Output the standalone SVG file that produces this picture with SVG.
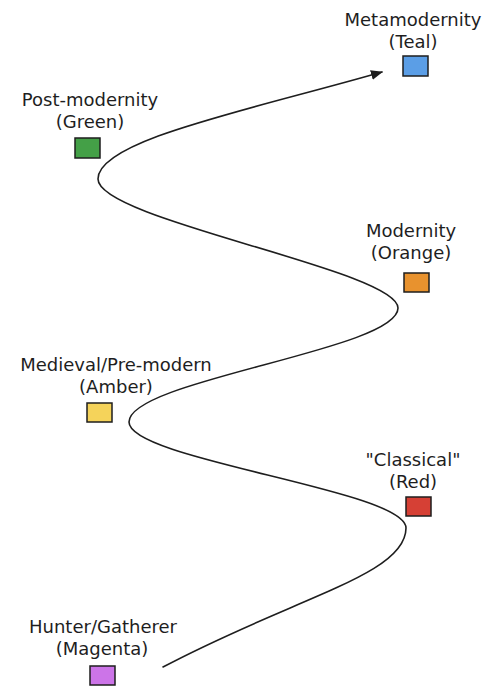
<svg xmlns="http://www.w3.org/2000/svg" width="488" height="686" viewBox="0 0 488 686">
<style>
.lbl{font-family:"DejaVu Sans","Liberation Sans",sans-serif;font-size:18px;fill:#1e1e1e;text-anchor:middle}
.sq{stroke:#1e1e1e;stroke-width:1.5}
.curve{fill:none;stroke:#1e1e1e;stroke-width:1.6;stroke-linecap:round}
</style>
<defs>
<marker id="ah" viewBox="0 0 12 10" refX="11" refY="5" markerWidth="12" markerHeight="10" markerUnits="userSpaceOnUse" orient="auto">
<path d="M0,0 L12,5 L0,10 Z" fill="#1e1e1e"/>
</marker>
</defs>
<rect width="488" height="686" fill="#ffffff"/>
<g id="connectors">
<path class="curve" marker-end="url(#ah)" d="M163,667 C295,597 406,575 406,528 C406,490 129,460 129,422 C129,380 398,350 398,308 C398,270 98,220 98,179 C98,140 250,110 382,72"/>
</g>
<g id="metamodernity">
<text class="lbl" x="413" y="26">Metamodernity</text>
<text class="lbl" x="413" y="48">(Teal)</text>
<rect class="sq" x="403" y="56" width="25" height="20" fill="#5b9ee6"/>
</g>
<g id="post-modernity">
<text class="lbl" x="90" y="106">Post-modernity</text>
<text class="lbl" x="90" y="128">(Green)</text>
<rect class="sq" x="75" y="138" width="25" height="20" fill="#44a047"/>
</g>
<g id="modernity">
<text class="lbl" x="411" y="237">Modernity</text>
<text class="lbl" x="411" y="259">(Orange)</text>
<rect class="sq" x="404" y="273" width="25" height="19" fill="#e8922e"/>
</g>
<g id="medieval">
<text class="lbl" x="116" y="371">Medieval/Pre-modern</text>
<text class="lbl" x="116" y="393">(Amber)</text>
<rect class="sq" x="87" y="403" width="25" height="19" fill="#f5d35a"/>
</g>
<g id="classical">
<text class="lbl" x="413" y="466">"Classical"</text>
<text class="lbl" x="413" y="488">(Red)</text>
<rect class="sq" x="406" y="497" width="25" height="19" fill="#d64035"/>
</g>
<g id="hunter-gatherer">
<text class="lbl" x="103" y="633">Hunter/Gatherer</text>
<text class="lbl" x="102" y="655">(Magenta)</text>
<rect class="sq" x="90" y="666" width="25" height="19" fill="#cc74e8"/>
</g>
</svg>
